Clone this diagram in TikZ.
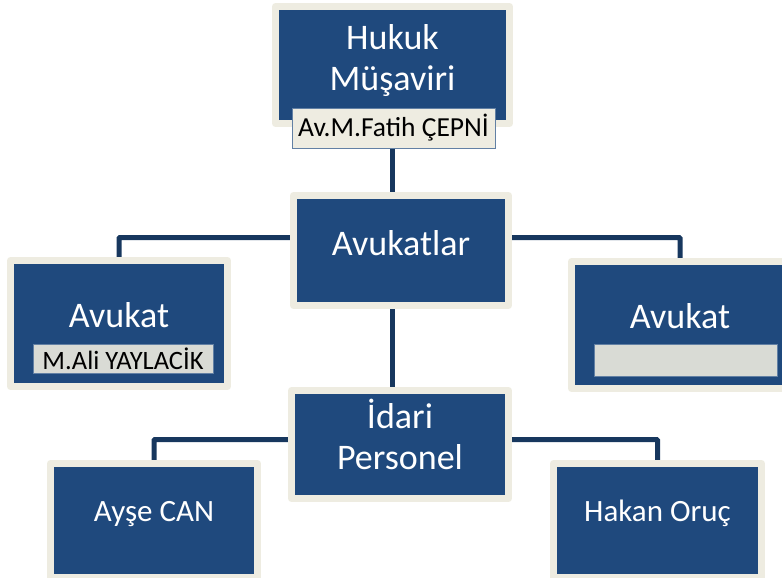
\documentclass[tikz,border=0pt]{standalone}
\usepackage{fontspec}
\setmainfont{Carlito}
\usetikzlibrary{backgrounds}

\definecolor{boxblue}{HTML}{1F497D}
\definecolor{boxrim}{HTML}{EEECE1}
\definecolor{linkblue}{HTML}{17375E}
\definecolor{bargray}{HTML}{D9DBD5}

\tikzset{
  unit/.style={draw=boxrim, fill=boxblue, line width=7pt, line join=round,
    text=white, inner sep=0pt, align=center, font=\fontsize{36}{41}\selectfont},
  person/.style={unit, font=\fontsize{31}{36}\selectfont, text height=22pt, text depth=20pt},
  namebar/.style={draw=boxblue!70, line width=1pt, fill=bargray, inner sep=0pt, text=black},
  link/.style={draw=linkblue, line width=5pt, rounded corners=1pt}
}

\begin{document}
\begin{tikzpicture}[x=1pt, y=-1pt]
\useasboundingbox (0,0) rectangle (782,578);
\clip (0,0) rectangle (782,578);

\draw (392.5,65)  node (hukuk) [unit, minimum width=234pt, minimum height=117pt, text depth=14pt] {Hukuk\\Müşaviri};
\draw (393.5,128) node (fatih) [namebar, fill=boxrim, minimum width=203pt, minimum height=40pt,
  font=\fontsize{27.5}{30}\selectfont] {Av.M.Fatih ÇEPNİ};

\draw (401,250.5) node (avukatlar) [unit, minimum width=215pt, minimum height=110pt,
  text height=25pt, text depth=16pt] {Avukatlar};

\draw (119,323.5) node (avL) [unit, minimum width=217pt, minimum height=126pt,
  text height=25pt, text depth=18pt] {Avukat};
\draw (123,358.5) node (ali) [namebar, minimum width=180pt, minimum height=29pt,
  font=\fontsize{26.5}{30}\selectfont] {M.Ali YAYLACİK};

\draw (680,325)   node (avR) [unit, minimum width=217pt, minimum height=127pt,
  text height=25pt, text depth=18pt] {Avukat};
\draw (685.5,360) node (bos) [namebar, minimum width=183pt, minimum height=32pt] {};

\draw (400,444.5) node (idari) [unit, minimum width=217pt, minimum height=108pt, text depth=20pt] {İdari\\Personel};

\draw (154,520.5) node (ayse)  [person, minimum width=207pt, minimum height=114pt] {Ayşe CAN};
\draw (657.5,520.5) node (hakan) [person, minimum width=208pt, minimum height=114pt] {Hakan Oruç};

% connectors behind the boxes
\begin{scope}[on background layer]
\draw[link] (hukuk.south) -- (hukuk.south |- avukatlar.north);
\draw[link] (hukuk.south |- avukatlar.south) -- (hukuk.south |- idari.north);
\draw[link] ([yshift=13pt]avukatlar.west) -| (avL.north);
\draw[link] ([yshift=13pt]avukatlar.east) -| (avR.north);
\draw[link] ([yshift=5pt]idari.west) -| (ayse.north);
\draw[link] ([yshift=5pt]idari.east) -| (hakan.north);
\end{scope}

\end{tikzpicture}
\end{document}
